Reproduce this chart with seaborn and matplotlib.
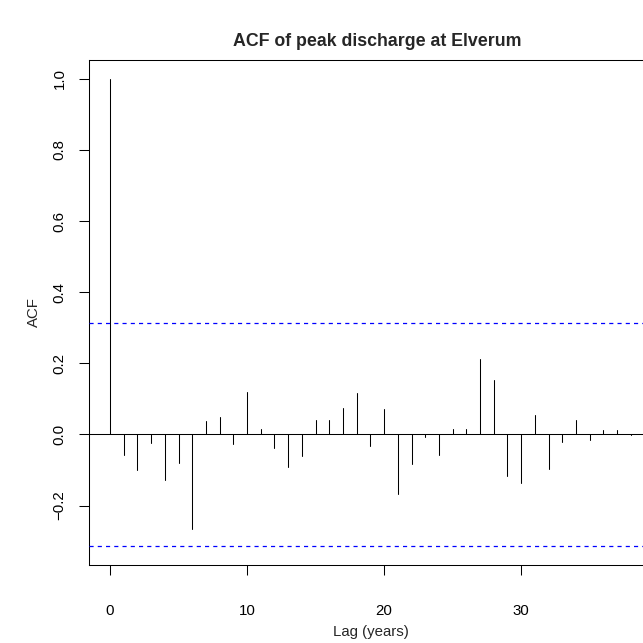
import matplotlib
matplotlib.use("Agg")
import matplotlib.pyplot as plt
import seaborn as sns
import pandas as pd
import numpy as np

# ACF values (lags 0..38)
lags = list(range(39))
acf_values = [1.000, -0.057, -0.099, -0.025, -0.129, -0.081, -0.266, 0.039, 0.048, -0.028,
              0.119, 0.015, -0.037, -0.092, -0.062, 0.040, 0.042, 0.074, 0.116, -0.032,
              0.071, -0.167, -0.084, -0.007, -0.057, 0.014, 0.015, 0.212, 0.153, -0.117,
              -0.136, 0.054, -0.098, -0.022, 0.042, -0.016, 0.012, 0.012, -0.002]
n_obs = 39
conf_level = 1.96 / np.sqrt(n_obs)
x_ticks = [0, 10, 20, 30]
y_ticks = [-0.2, 0.0, 0.2, 0.4, 0.6, 0.8, 1.0]
y_tick_labels = ["\u22120.2", "0.0", "0.2", "0.4", "0.6", "0.8", "1.0"]

sns.set_theme(style="ticks")
plt.rcParams["font.family"] = ["Liberation Sans", "DejaVu Sans"]

# long-form data: each lag is a vertical segment from 0 to its ACF value
rows = []
for lag, val in zip(lags, acf_values):
    rows.append({"lag": lag, "acf": 0.0, "unit": lag})
    rows.append({"lag": lag, "acf": val, "unit": lag})
df = pd.DataFrame(rows)

W = 643
fig = plt.figure(figsize=(6.43, 6.43), dpi=100)
px_per_lag = (521.2 - 110) / 30
left_px = 110 - 1.52 * px_per_lag
right_px = 110 + 39.52 * px_per_lag
top_px, bottom_px = 60, 564.6
ax = fig.add_axes([left_px / W, (W - bottom_px) / W,
                   (right_px - left_px) / W, (bottom_px - top_px) / W])

lw = 0.75
sns.lineplot(data=df, x="lag", y="acf", units="unit", estimator=None,
             color="black", linewidth=lw, ax=ax, legend=False)

ax.axhline(0, color="black", linewidth=lw, zorder=1)
for c in (conf_level, -conf_level):
    ax.axhline(c, color="#0000FF", linewidth=0.9, linestyle=(0, (3.3, 3.3)),
               zorder=3)

ax.set_xlim(-1.52, 39.52)
ax.set_ylim(-0.366, 1.053)
ax.set_xticks(x_ticks)
ax.set_xticklabels([str(t) for t in x_ticks])
ax.set_yticks(y_ticks)
ax.set_yticklabels(y_tick_labels, rotation=90, va="center")
ax.set_xlabel("")
ax.set_ylabel("")

for s in ax.spines.values():
    s.set_visible(True)
    s.set_linewidth(lw)
    s.set_color("black")

ax.tick_params(axis="both", direction="out", length=7.2, width=lw,
               colors="black", labelsize=10.8)
ax.tick_params(axis="x", pad=21)
ax.tick_params(axis="y", pad=9)

fig.text(377 / W, 1 - 42 / W, "ACF of peak discharge at Elverum",
         ha="center", va="center", fontsize=12.8, fontweight="bold")
fig.text(371 / W, 1 - 632 / W, "Lag (years)", ha="center", va="center", fontsize=10.8)
fig.text(34 / W, 1 - 312.5 / W, "ACF", ha="center", va="center",
         rotation=90, fontsize=10.8)

fig.savefig("out.png", dpi=100, facecolor="white")
